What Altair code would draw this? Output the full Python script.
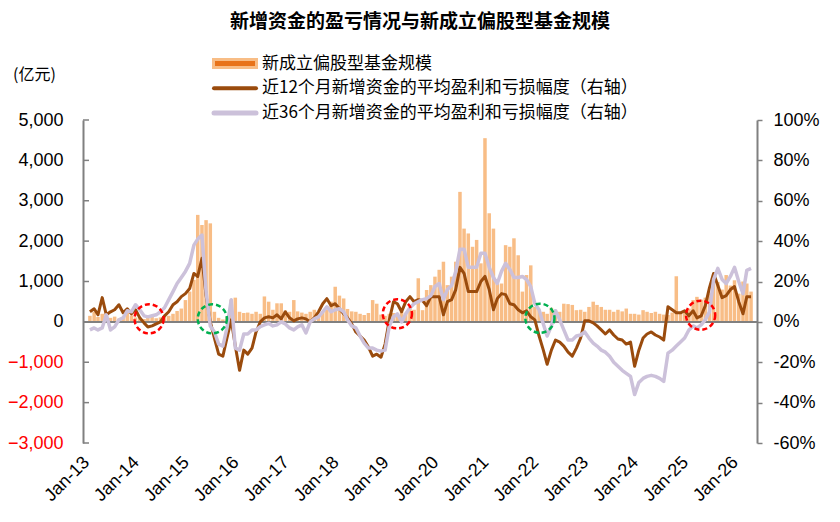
import altair as alt
import pandas as pd

# ---------------- data ----------------
months = pd.date_range("2013-01-01", periods=160, freq="MS").strftime("%Y-%m-%d").tolist()

# 新成立偏股型基金规模 (亿元)
fund_size = [
    150, 250, 120, 200, 180, 100, 130, 80, 120, 220, 160, 110,          # 2013
    90, 70, 110, 130, 90, 110, 150, 150, 200, 270, 330, 540,            # 2014
    750, 1040, 2650, 2400, 2520, 2440, 250, 100, 60, 120, 550, 600,     # 2015
    250, 220, 230, 200, 250, 200, 630, 500, 300, 460, 460, 280,         # 2016
    250, 540, 260, 230, 200, 250, 300, 220, 260, 300, 500, 870,         # 2017
    650, 580, 320, 260, 250, 200, 170, 220, 540, 450, 180, 150,         # 2018
    200, 220, 150, 250, 200, 370, 300, 1080, 290, 790, 910, 1120,       # 2019
    1290, 1490, 910, 1120, 1490, 3220, 2310, 2190, 1860, 2030, 1450, 4550,  # 2020
    2690, 2310, 950, 950, 1900, 1860, 2070, 1650, 750, 1160, 1400, 370,  # 2021
    300, 250, 200, 350, 300, 250, 450, 440, 420, 290, 300, 250,         # 2022
    370, 500, 420, 370, 300, 300, 250, 300, 260, 330, 200, 200,         # 2023
    180, 290, 250, 220, 250, 200, 180, 170, 230, 1130, 200, 260,        # 2024
    330, 540, 620, 550, 600, 700, 950, 990, 800, 1160, 900, 1030,       # 2025
    700, 1000, 950, 750,                                                # 2026
]

# 近12个月新增资金的平均盈利和亏损幅度 (%)
ret_12m = [
    5, 6.5, 3.5, 12, 3.5, 5, 6, 8.5, 4.5, 6.5, 4, 6,
    2, -0.5, -2.5, -2, -1, 0, 3, 5, 8.5, 10, 12.5, 14,
    16.5, 24, 22.5, 31.5, 13, 0, -8, -16, -17, -8, 1, -12,
    -24, -14, -16, -13, -5, 0, 2, 2.5, 2, 3.5, 1.5, 5,
    2, 0.5, 1.5, 2, 1.5, 0, 2, 5, 9, 11.5, 8, 9,
    6.5, 4, 2, -1, -5, -7, -9, -12.5, -17, -16, -17.5, -11,
    1, 10, 9, 5, 10, 12.5, 10, 11, 10.5, 8, 12.5, 12.5,
    12.5, 3.5, 10, 11, 16, 27, 24, 15, 15, 15, 20, 22.5,
    16, 6, 11.5, 14, 13.5, 9, 8.5, 6, 4.5, 5.5, 2.5, 1,
    -7, -14, -21, -14, -9, -10, -12, -15, -17, -13, -8, 0.5,
    0.5, -0.5, -2, -4, -6, -4, -6.5, -8.5, -9, -11, -10, -22,
    -14, -8, -6, -5, -6.5, -7.5, -9, 7.5, 6, 4.5, 4.5, 5.5,
    3, 5.5, 2, 3, 8, 17, 24, 18, 12, 13, 16, 17.5,
    10, 4, 12.5, 12.5,
]

# 近36个月新增资金的平均盈利和亏损幅度 (%)
ret_36m = [
    -4, -3, -4, -3, 3.5, -4, -2.5, 1, 2, 5.5, 5, 8.5,
    6, 3, 2.5, 3, 3.5, 5, 7, 11, 15, 19, 22, 25,
    29, 38, 41, 43, 15, -2, -5, -11, -12, -3, 11, -13,
    -14, -6, -6, -4, -4, -2.3, -1.5, -0.7, -2, -1.5, 0, -1,
    -3, -4, -2.5, -1.5, -5.5, 0, 1.5, 2.5, 5, 7.5, 5, 6,
    6.5, 5, 1, -2, -3, -7, -10.5, -13, -13, -14, -14.5, -14,
    -2, 2.5, 4, 0, 4, 7, 9, 10, 11, 11.5, 13, 17.5,
    19, 11, 16, 18, 25, 36, 36, 27, 27, 27, 34, 34,
    27, 22, 19, 25, 29, 26, 22, 22, 22.5, 21, 17.5, 9,
    6, -1, -7, -2, 5.5, 1, -4, -9, -9, -7, -6.5, -5,
    -8, -10.5, -12, -14, -15, -17, -20, -22, -24, -25.5, -27, -36,
    -30, -28, -27, -26.5, -27, -28, -29.5, -15.5, -14, -12, -10, -8,
    -4, -2, -3, -1.5, 1, 5, 21, 26.5, 21, 19, 22.5, 27,
    20, 14, 25.5, 26.5,
]

left_ticks = [-3000, -2000, -1000, 0, 1000, 2000, 3000, 4000, 5000]
right_ticks = [-60, -40, -20, 0, 20, 40, 60, 80, 100]
year_ticks = list(range(2013, 2027))

circle_dates = ["2014-03-10", "2015-06-16", "2019-03-01", "2022-01-07", "2025-03-28"]
circle_values = [1.5, 1.5, 4.0, 1.8, 3.3]
circle_kind = ["盈利", "亏损", "盈利", "亏损", "盈利"]

title_text = "新增资金的盈亏情况与新成立偏股型基金规模"
legend_labels = [
    "新成立偏股型基金规模",
    "近12个月新增资金的平均盈利和亏损幅度（右轴）",
    "近36个月新增资金的平均盈利和亏损幅度（右轴）",
]
unit_label = "(亿元)"

# ---------------- styling ----------------
W, H = 674, 323
NUM_FONT = "Liberation Sans"
CJK_FONT = "Noto Sans CJK SC"
BAR_COLOR = "#F8BD86"
BAR_DARK = "#E8731A"
BROWN = "#9A4B0D"
LAVENDER = "#CCC1DA"
AXIS_GRAY = "#808080"

df = pd.DataFrame({"date": months, "size": fund_size, "r12": ret_12m, "r36": ret_36m})
circ_df = pd.DataFrame({"date": circle_dates, "v": circle_values, "kind": circle_kind})

x_scale = alt.Scale(
    type="utc",
    domain=[alt.DateTime(year=2012, month=12, date=18, utc=True),
            alt.DateTime(year=2026, month=4, date=8, utc=True)],
)
x_axis = alt.Axis(
    values=[alt.DateTime(year=y, month=1, date=1, utc=True) for y in year_ticks],
    labelExpr="utcFormat(datum.value, '%b-%y')",
    labelAngle=-45, labelAlign="right", labelBaseline="top",
    labelPadding=10, labelOffset=-10, labelOverlap=False, labelBound=False,
    domain=False, ticks=False, grid=False, title=None,
    labelFont=NUM_FONT, labelFontSize=18, labelColor="#000000",
)
X = alt.X("date:T", scale=x_scale, axis=x_axis)

left_scale = alt.Scale(domain=[-3000, 5000], nice=False, zero=False)
right_scale = alt.Scale(domain=[-60, 100], nice=False, zero=False)

left_axis = alt.Axis(
    values=left_ticks, format=",d", orient="left",
    labelColor=alt.condition("datum.value < 0", alt.value("#FF0000"), alt.value("#000000")),
    ticks=False, labelPadding=20, domainColor=AXIS_GRAY, domainWidth=2,
    labelOverlap=False, grid=False, title=None, labelFont=NUM_FONT, labelFontSize=18,
)
right_axis = alt.Axis(
    values=right_ticks, labelExpr="datum.value + '%'", orient="right",
    tickSize=5, tickColor=AXIS_GRAY, tickWidth=1.5, labelPadding=11,
    domainColor=AXIS_GRAY, domainWidth=2, grid=False, title=None, labelOverlap=False,
    labelFont=NUM_FONT, labelFontSize=18, labelColor="#000000",
)

bars = alt.Chart(df).mark_bar(size=3.5, color=BAR_COLOR).encode(
    x=X, y=alt.Y("size:Q", scale=left_scale, axis=left_axis)
)
zero_rule = alt.Chart(pd.DataFrame({"v": [0]})).mark_rule(color=AXIS_GRAY, strokeWidth=2).encode(
    y=alt.Y("v:Q", scale=left_scale, axis=None)
)
tick_rules = alt.Chart(pd.DataFrame({"v": left_ticks})).mark_rule(color=AXIS_GRAY, strokeWidth=1.5).encode(
    y=alt.Y("v:Q", scale=left_scale, axis=None), x=alt.value(0), x2=alt.value(6)
)
line12 = alt.Chart(df).mark_line(color=BROWN, strokeWidth=3, strokeJoin="round").encode(
    x=X, y=alt.Y("r12:Q", scale=right_scale, axis=right_axis)
)
line36 = alt.Chart(df).mark_line(color=LAVENDER, strokeWidth=3.5, strokeJoin="round").encode(
    x=X, y=alt.Y("r36:Q", scale=right_scale, axis=None)
)
circles = alt.Chart(circ_df).mark_point(
    shape="circle", filled=False, size=850, strokeWidth=2.5, strokeDash=[5, 3], opacity=1
).encode(
    x=X, y=alt.Y("v:Q", scale=right_scale, axis=None),
    color=alt.Color("kind:N", scale=alt.Scale(domain=["盈利", "亏损"], range=["#FF0000", "#00B050"]), legend=None),
)

one = pd.DataFrame({"k": [0]})


def text_layer(txt, x, y, size, weight="normal", align="left", font=CJK_FONT):
    return alt.Chart(one).mark_text(
        text=txt, font=font, fontSize=size, fontWeight=weight, color="#000000",
        align=align, baseline="middle",
    ).encode(x=alt.value(x), y=alt.value(y))


def rule_layer(x1, x2, y, color, width, cap="butt"):
    return alt.Chart(one).mark_rule(color=color, strokeWidth=width, strokeCap=cap).encode(
        x=alt.value(x1), x2=alt.value(x2), y=alt.value(y)
    )


title_layer = text_layer(title_text, W / 2, -98, 19, weight="bold", align="center")
unit_layer = text_layer(unit_label, -70, -45, 16)

leg_rows = [-56.5, -31.7, -6.9]
leg_x0, leg_x1, leg_tx = 129, 175, 179
legend_layers = [
    rule_layer(leg_x0, leg_x1, leg_rows[0], BAR_COLOR, 11),
    rule_layer(leg_x0 + 3, leg_x1 - 3, leg_rows[0], BAR_DARK, 5),
    rule_layer(leg_x0 + 2, leg_x1 - 2, leg_rows[1], BROWN, 4, "round"),
    rule_layer(leg_x0 + 2, leg_x1 - 2, leg_rows[2], LAVENDER, 5, "round"),
]
for lbl, ry in zip(legend_labels, leg_rows):
    legend_layers.append(text_layer(lbl, leg_tx, ry, 17))

chart = alt.layer(
    bars, zero_rule, tick_rules, line12, line36, circles,
    title_layer, unit_layer, *legend_layers
).resolve_scale(
    y="independent"
).properties(
    width=W, height=H,
    padding={"left": 83, "top": 120, "right": 83, "bottom": 79},
    autosize=alt.AutoSizeParams(type="none"),
    background="white",
).configure_view(stroke=None)

chart.save("out.html", embed_options={"renderer": "svg", "actions": False})
